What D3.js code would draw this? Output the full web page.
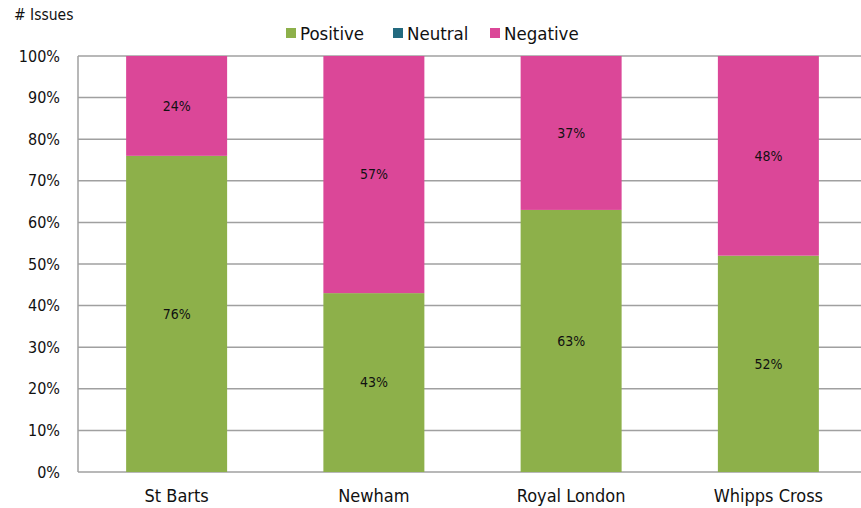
<!DOCTYPE html>
<html><head><meta charset="utf-8">
<script src="https://cdn.jsdelivr.net/npm/d3@7"></script>
<style>body{margin:0;background:#fff}svg{display:block}text{font-family:"DejaVu Sans Condensed","DejaVu Sans",sans-serif;fill:#111}</style>
</head><body><svg id="c" width="861" height="508"></svg>
<script>
const categories = ["St Barts","Newham","Royal London","Whipps Cross"];
const seriesNames = ["Positive","Neutral","Negative"];
const positive = [76,43,63,52];
const neutral = [0,0,0,0];
const negative = [24,57,37,48];
const yTicks = [0,10,20,30,40,50,60,70,80,90,100];
const colors = {Positive:"#8db04a",Neutral:"#236a7f",Negative:"#db4798"};

const svg = d3.select("#c");
const m = {l:78, t:56, r:-6, b:36};
const W = 861, H = 508;
const x = d3.scaleBand().domain(categories).range([m.l, W - m.r]).paddingInner(0.488).paddingOuter(0.244);
const y = d3.scaleLinear().domain([0,100]).range([472, 56]);

const data = categories.map((c,i)=>({cat:c, Positive:positive[i], Neutral:neutral[i], Negative:negative[i]}));
const stack = d3.stack().keys(seriesNames)(data);

// gridlines
svg.append("g").selectAll("line").data(yTicks).join("line")
  .attr("x1", m.l).attr("x2", W).attr("y1", d=>y(d)).attr("y2", d=>y(d))
  .attr("stroke", "#a0a0a0").attr("stroke-width", 1.5);
// y axis line
svg.append("line").attr("x1", m.l).attr("x2", m.l).attr("y1", y(100)).attr("y2", y(0))
  .attr("stroke", "#a0a0a0").attr("stroke-width", 1.5);

// bars
const g = svg.append("g");
stack.forEach(s=>{
  g.append("g").selectAll("rect").data(s).join("rect")
    .attr("x", d=>x(d.data.cat)).attr("width", x.bandwidth())
    .attr("y", d=>y(d[1])).attr("height", d=>y(d[0])-y(d[1]))
    .attr("fill", colors[s.key]);
  g.append("g").selectAll("text").data(s.filter(d=>d[1]-d[0]>0)).join("text")
    .attr("x", d=>x(d.data.cat)+x.bandwidth()/2)
    .attr("y", d=>y((d[0]+d[1])/2))
    .attr("dy","0.35em").attr("text-anchor","middle")
    .attr("font-size", 14)
    .text(d=>(d[1]-d[0])+"%");
});

// y tick labels
svg.append("g").selectAll("text").data(yTicks).join("text")
  .attr("x", 60).attr("y", d=>y(d)).attr("dy","0.35em").attr("text-anchor","end")
  .attr("font-size", 16).text(d=>d+"%");

// x labels
svg.append("g").selectAll("text").data(categories).join("text")
  .attr("x", d=>x(d)+x.bandwidth()/2).attr("y", 496).attr("dy","0.35em")
  .attr("text-anchor","middle").attr("font-size", 18).text(d=>d);

// y title
svg.append("text").attr("x", 14).attr("y", 14.5).attr("dy","0.35em").attr("font-size", 15.5).text("# Issues");

// legend
const legX = [286, 393, 490];
const lg = svg.append("g");
seriesNames.forEach((n,i)=>{
  lg.append("rect").attr("x", legX[i]).attr("y", 28).attr("width", 10).attr("height", 10).attr("fill", colors[n]);
  lg.append("text").attr("x", legX[i]+14).attr("y", 33.5).attr("dy","0.35em").attr("font-size", 18.5).text(n);
});
</script></body></html>
